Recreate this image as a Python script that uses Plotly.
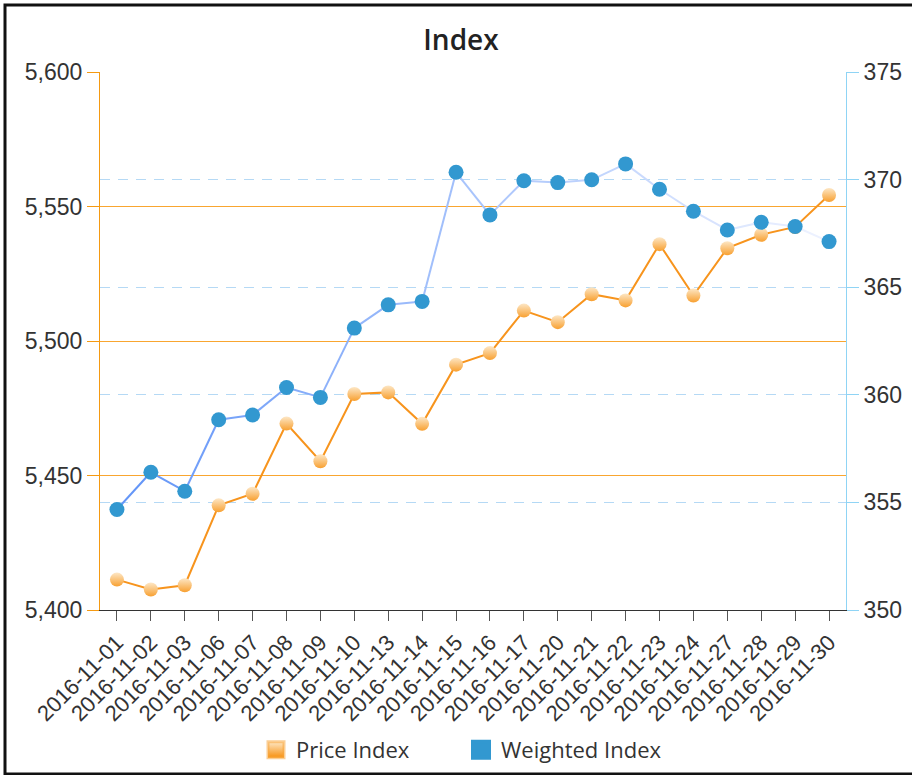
import plotly.graph_objects as go

# ---- data ----
dates = ["2016-11-01", "2016-11-02", "2016-11-03", "2016-11-06", "2016-11-07",
         "2016-11-08", "2016-11-09", "2016-11-10", "2016-11-13", "2016-11-14",
         "2016-11-15", "2016-11-16", "2016-11-17", "2016-11-20", "2016-11-21",
         "2016-11-22", "2016-11-23", "2016-11-24", "2016-11-27", "2016-11-28",
         "2016-11-29", "2016-11-30"]
price_index = [5411.3, 5407.6, 5409.2, 5438.9, 5443.2, 5469.3, 5455.3, 5480.3,
               5480.9, 5469.2, 5491.2, 5495.5, 5511.3, 5507.0, 5517.4, 5515.1,
               5536.0, 5516.9, 5534.5, 5539.5, 5542.4, 5554.3]
weighted_index = [354.67, 356.40, 355.52, 358.84, 359.06, 360.34, 359.88, 363.10,
                  364.18, 364.34, 370.34, 368.36, 369.95, 369.86, 369.99, 370.73,
                  369.55, 368.53, 367.66, 368.02, 367.82, 367.12]
left_range = [5400, 5600]
right_range = [350, 375]

# ---- layout constants ----
W, H = 912, 775
ML, MR, MT, MB = 100, 66, 72, 165
PW, PH = W - ML - MR, H - MT - MB

ORANGE = "#f7941d"
ORANGE_LIGHT = "#fde7c6"
BLUE = "#3298d0"
AXIS_ORANGE = "#f59a12"
AXIS_BLUE = "#8fd4f5"
GRID_BLUE = "#b5d9f5"
TICK_FONT = dict(family="Liberation Sans, Arial, sans-serif", size=23, color="#333333")

fig = go.Figure()

# Price Index (left axis)
fig.add_trace(go.Scatter(
    x=dates, y=price_index, mode="lines+markers", name="Price Index",
    showlegend=False, yaxis="y",
    line=dict(color=ORANGE, width=2),
    marker=dict(size=14, color=ORANGE_LIGHT,
                gradient=dict(type="vertical", color="#f8a030"),
                line=dict(width=0)),
))

# Weighted Index line: gradient approximated by per-segment colours
c0 = (100, 150, 248)
c1 = (236, 241, 255)
n = len(dates) - 1
for i in range(n):
    t = i / (n - 1)
    col = "rgb(%d,%d,%d)" % tuple(round(a + (b - a) * t) for a, b in zip(c0, c1))
    fig.add_trace(go.Scatter(
        x=dates[i:i + 2], y=weighted_index[i:i + 2], mode="lines",
        showlegend=False, yaxis="y2", hoverinfo="skip",
        line=dict(color=col, width=2),
    ))

fig.add_trace(go.Scatter(
    x=dates, y=weighted_index, mode="markers", name="Weighted Index",
    showlegend=False, yaxis="y2",
    marker=dict(size=15, color=BLUE, line=dict(width=0)),
))

# legend entries (square swatches)
fig.add_trace(go.Scatter(
    x=[None], y=[None], mode="markers", name="Price Index", yaxis="y",
    marker=dict(symbol="square", size=16, color=ORANGE_LIGHT,
                gradient=dict(type="vertical", color="#f7900e"),
                line=dict(width=3, color="rgba(248,165,60,0.55)")),
))
fig.add_trace(go.Scatter(
    x=[None], y=[None], mode="markers", name="Weighted Index", yaxis="y2",
    marker=dict(symbol="square", size=16, color=BLUE,
                line=dict(width=4, color=BLUE)),
))

# outer frame
fig.add_shape(type="rect", xref="paper", yref="paper",
              x0=(5 - ML) / PW, x1=(W + 5 - ML) / PW,
              y0=(MT + PH - 774) / PH, y1=(MT + PH - 5) / PH,
              line=dict(color="#111111", width=3), fillcolor="rgba(0,0,0,0)",
              layer="below")

fig.update_layout(
    width=W, height=H,
    margin=dict(l=ML, r=MR, t=MT, b=MB, autoexpand=False),
    paper_bgcolor="white", plot_bgcolor="white",
    title=dict(text="Index", x=461 / W, xref="container", xanchor="center",
               y=1 - 40 / H, yref="container", yanchor="middle",
               font=dict(family="Open Sans, sans-serif", size=28, color="#222222", weight=600)),
    xaxis=dict(type="category", range=[-0.5, len(dates) - 0.5], automargin=False,
               showgrid=False, zeroline=False,
               showline=True, linecolor="#333333", linewidth=1,
               ticks="outside", ticklen=10, tickcolor="#555555",
               tickangle=-45,
               tickfont=dict(family="Liberation Sans, Arial, sans-serif", size=22, color="#333333")),
    yaxis=dict(range=left_range, dtick=50, tickformat=",", automargin=False,
               showgrid=True, gridcolor="#f9a630", gridwidth=1,
               zeroline=False, showline=True, linecolor=AXIS_ORANGE, linewidth=1,
               ticks="outside", ticklen=12, tickcolor=AXIS_ORANGE,
               tickfont=TICK_FONT),
    yaxis2=dict(range=right_range, dtick=5, overlaying="y", side="right", automargin=False,
                showgrid=True, gridcolor=GRID_BLUE, gridwidth=1, griddash="10px,8px",
                zeroline=False, showline=True, linecolor=AXIS_BLUE, linewidth=1,
                ticks="outside", ticklen=12, tickcolor=AXIS_BLUE,
                tickfont=TICK_FONT),
    legend=dict(orientation="h", x=(256 - ML) / PW, xanchor="left",
                y=(MT + PH - 750) / PH, yanchor="middle",
                entrywidth=160, entrywidthmode="pixels",
                font=dict(family="Open Sans, sans-serif", size=22, color="#333333"),
                itemclick=False),
    showlegend=True,
)

fig.write_html("out.html", config={"displayModeBar": False},
               post_script="document.body.style.margin='0';document.body.style.overflow='hidden';")
